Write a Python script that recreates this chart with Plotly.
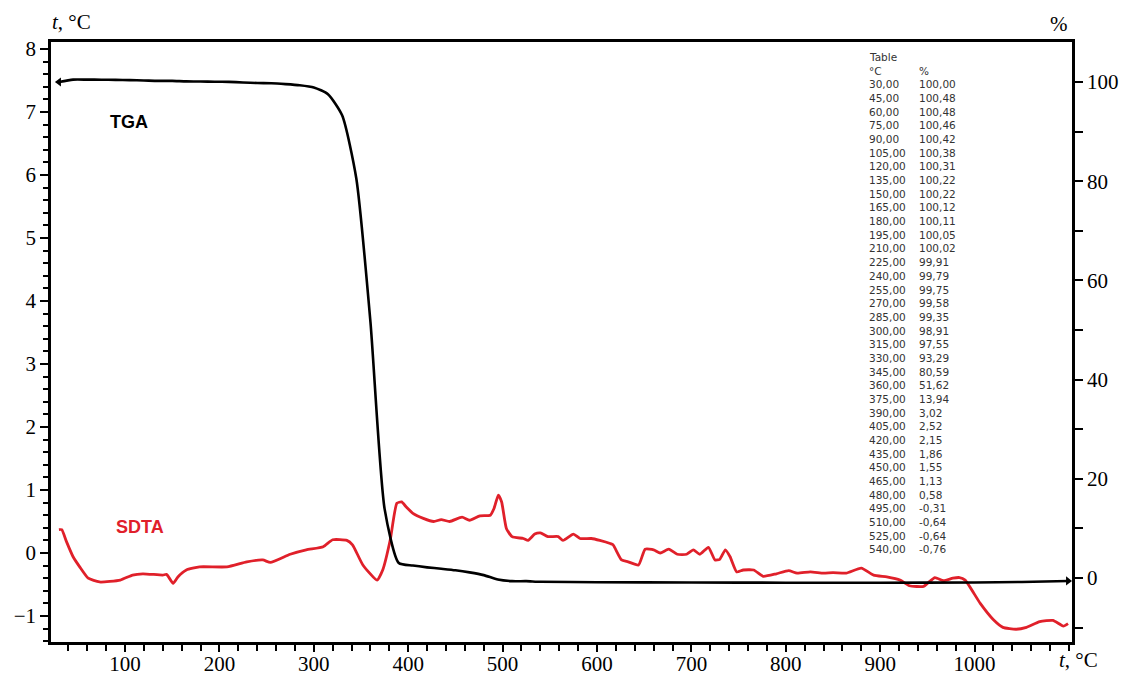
import plotly.graph_objects as go

# ---------------- data ----------------
# TGA table (°C, %)
table_temp = [30, 45, 60, 75, 90, 105, 120, 135, 150, 165, 180, 195, 210, 225, 240,
              255, 270, 285, 300, 315, 330, 345, 360, 375, 390, 405, 420, 435, 450,
              465, 480, 495, 510, 525, 540]
table_pct = [100.00, 100.48, 100.48, 100.46, 100.42, 100.38, 100.31, 100.22, 100.22,
             100.12, 100.11, 100.05, 100.02, 99.91, 99.79, 99.75, 99.58, 99.35, 98.91,
             97.55, 93.29, 80.59, 51.62, 13.94, 3.02, 2.52, 2.15, 1.86, 1.55, 1.13,
             0.58, -0.31, -0.64, -0.64, -0.76]
# TGA beyond the table
tga_ext_temp = [600, 700, 800, 900, 1000, 1050, 1099]
tga_ext_pct = [-0.85, -0.9, -0.95, -0.95, -0.9, -0.8, -0.6]

# SDTA curve (°C, left-axis units)
sdta_temp = [30, 33, 38, 45, 52, 61, 73, 95, 108, 119, 140, 144, 151, 156, 165, 179,
             208, 229, 246, 254, 275, 292, 310, 320, 335, 341, 352, 367, 373, 381,
             388, 393, 398, 405, 416, 427, 435, 444, 457, 465, 476, 487, 491, 495.5,
             499, 504, 510, 522, 527, 534, 540, 548, 559, 564, 575, 582, 594, 603,
             614, 617, 626, 633, 644, 651, 660, 667, 676, 685, 695, 702, 709, 718,
             725, 730, 736, 741, 748, 755, 766, 776, 790, 803, 812, 826, 840, 850,
             864, 880, 893, 907, 921, 931, 946, 951, 958, 967, 977, 984, 990, 1006,
             1020, 1030, 1044, 1055, 1069, 1083, 1094, 1099]
sdta_val = [0.37, 0.37, 0.18, -0.06, -0.22, -0.40, -0.46, -0.43, -0.35, -0.33, -0.35,
            -0.34, -0.48, -0.38, -0.27, -0.22, -0.22, -0.14, -0.11, -0.15, -0.02, 0.05,
            0.10, 0.21, 0.20, 0.13, -0.19, -0.43, -0.27, 0.21, 0.79, 0.81, 0.73, 0.63,
            0.55, 0.50, 0.53, 0.50, 0.57, 0.52, 0.59, 0.60, 0.71, 0.92, 0.81, 0.39,
            0.26, 0.23, 0.20, 0.30, 0.32, 0.26, 0.26, 0.20, 0.30, 0.23, 0.23, 0.20,
            0.15, 0.13, -0.11, -0.14, -0.19, 0.06, 0.05, 0.00, 0.06, -0.02, -0.02,
            0.05, -0.02, 0.09, -0.11, -0.10, 0.05, -0.06, -0.30, -0.27, -0.27, -0.37,
            -0.33, -0.28, -0.32, -0.30, -0.32, -0.31, -0.32, -0.24, -0.35, -0.38,
            -0.43, -0.52, -0.53, -0.47, -0.39, -0.44, -0.40, -0.39, -0.43, -0.80,
            -1.06, -1.18, -1.21, -1.18, -1.09, -1.07, -1.16, -1.12]

x_ticks = [100, 200, 300, 400, 500, 600, 700, 800, 900, 1000]
y_left_ticks = [-1, 0, 1, 2, 3, 4, 5, 6, 7, 8]
y_right_ticks = [0, 20, 40, 60, 80, 100]

RED = "#e0202a"
SERIF = "Liberation Serif"
SANS = "Liberation Sans"

# plot-area geometry (pixels)
W, H = 1123, 676
PL, PR, PT, PB = 51, 1072, 42, 642


def px2x(px):
    return (px - PL) / (PR - PL)


def py2y(py):
    return (PB - py) / (PB - PT)


tga_temp = table_temp + tga_ext_temp
tga_pct = table_pct + tga_ext_pct

fig = go.Figure()

fig.add_trace(go.Scatter(
    x=sdta_temp, y=sdta_val, mode="lines", yaxis="y",
    line=dict(color=RED, width=2.8, shape="spline", smoothing=0.5),
    showlegend=False, hoverinfo="skip"))

fig.add_trace(go.Scatter(
    x=tga_temp, y=tga_pct, mode="lines", yaxis="y2",
    line=dict(color="black", width=2.6, shape="spline", smoothing=0.6),
    showlegend=False, hoverinfo="skip"))

# start / end markers of TGA
fig.add_trace(go.Scatter(
    x=[tga_temp[0], tga_temp[-1]], y=[tga_pct[0], tga_pct[-1]], mode="markers",
    yaxis="y2", marker=dict(symbol=["triangle-left", "triangle-right"], size=8,
                            color="black"),
    showlegend=False, hoverinfo="skip"))

axis_common = dict(
    showgrid=False, zeroline=False, showline=True, linecolor="black",
    linewidth=2.5, ticks="outside", tickcolor="black", tickwidth=1.5,
    tickfont=dict(family=SERIF, size=21, color="black"), automargin=False,
)

fig.update_layout(
    width=W, height=H,
    margin=dict(l=PL, r=W - PR, t=PT, b=H - PB, autoexpand=False),
    paper_bgcolor="white", plot_bgcolor="white",
    xaxis=dict(
        **axis_common, range=[21.6, 1103.2], tickmode="array", tickvals=x_ticks,
        ticklen=7, mirror=True, ticklabelstandoff=-6,
        minor=dict(ticks="outside", dtick=20, tick0=0, ticklen=6, tickwidth=1.5,
                   tickcolor="black"),
    ),
    yaxis=dict(
        **axis_common, range=[-(PB - 553) / 63, 8 + (49 - PT) / 63],
        tickmode="array", tickvals=y_left_ticks, ticklen=8,
        minor=dict(ticks="outside", dtick=0.2, tick0=0, ticklen=5, tickwidth=1.5,
                   tickcolor="black"),
    ),
    yaxis2=dict(
        **axis_common, overlaying="y", side="right",
        range=[-(PB - 578) / 4.96, 100 + (82 - PT) / 4.96],
        tickmode="array", tickvals=y_right_ticks, ticklen=8,
        minor=dict(ticks="outside", dtick=10, tick0=0, ticklen=8, tickwidth=1.5,
                   tickcolor="black"),
    ),
)

ann = []
# axis titles
ann.append(dict(text="<i>t</i>, °C", x=px2x(50), y=py2y(22), xref="paper", yref="paper",
                xanchor="left", yanchor="middle", showarrow=False,
                font=dict(family=SERIF, size=21, color="black")))
ann.append(dict(text="%", x=px2x(1070), y=py2y(24), xref="paper", yref="paper",
                xanchor="right", yanchor="middle", showarrow=False,
                font=dict(family=SERIF, size=21, color="black")))
ann.append(dict(text="<i>t</i>, °C", x=px2x(1057), y=py2y(660), xref="paper",
                yref="paper", xanchor="left", yanchor="middle", showarrow=False,
                font=dict(family=SERIF, size=21, color="black")))
# curve labels
ann.append(dict(text="<b>TGA</b>", x=px2x(108), y=py2y(122), xref="paper", yref="paper",
                xanchor="left", yanchor="middle", showarrow=False,
                font=dict(family=SANS, size=18, color="black")))
ann.append(dict(text="<b>SDTA</b>", x=px2x(114), y=py2y(527), xref="paper",
                yref="paper", xanchor="left", yanchor="middle", showarrow=False,
                font=dict(family=SANS, size=18, color=RED)))

# data table
TF = dict(family="DejaVu Sans", size=10.5, color="#333333")
C1, C2 = 866.5, 916.5
ROW0, DR = 84.3, 13.68
ann.append(dict(text="Table", x=px2x(C1), y=py2y(ROW0 - 2 * DR), xref="paper",
                yref="paper", xanchor="left", yanchor="middle", showarrow=False, font=TF))
ann.append(dict(text="°C", x=px2x(C1), y=py2y(ROW0 - DR), xref="paper",
                yref="paper", xanchor="left", yanchor="middle", showarrow=False, font=TF))
ann.append(dict(text="%", x=px2x(C2), y=py2y(ROW0 - DR), xref="paper",
                yref="paper", xanchor="left", yanchor="middle", showarrow=False, font=TF))
for i, (t, p) in enumerate(zip(table_temp, table_pct)):
    yy = py2y(ROW0 + i * DR)
    ann.append(dict(text=f"{t:.2f}".replace(".", ","), x=px2x(C1), y=yy, xref="paper",
                    yref="paper", xanchor="left", yanchor="middle", showarrow=False,
                    font=TF))
    ann.append(dict(text=f"{p:.2f}".replace(".", ","), x=px2x(C2), y=yy, xref="paper",
                    yref="paper", xanchor="left", yanchor="middle", showarrow=False,
                    font=TF))

fig.update_layout(annotations=ann)

# remove the default 8px page margin so the figure fills the window exactly
fig.write_html("out.html",
               config={"displayModeBar": False},
               post_script="document.body.style.margin='0';"
                           "document.body.style.overflow='hidden';")
